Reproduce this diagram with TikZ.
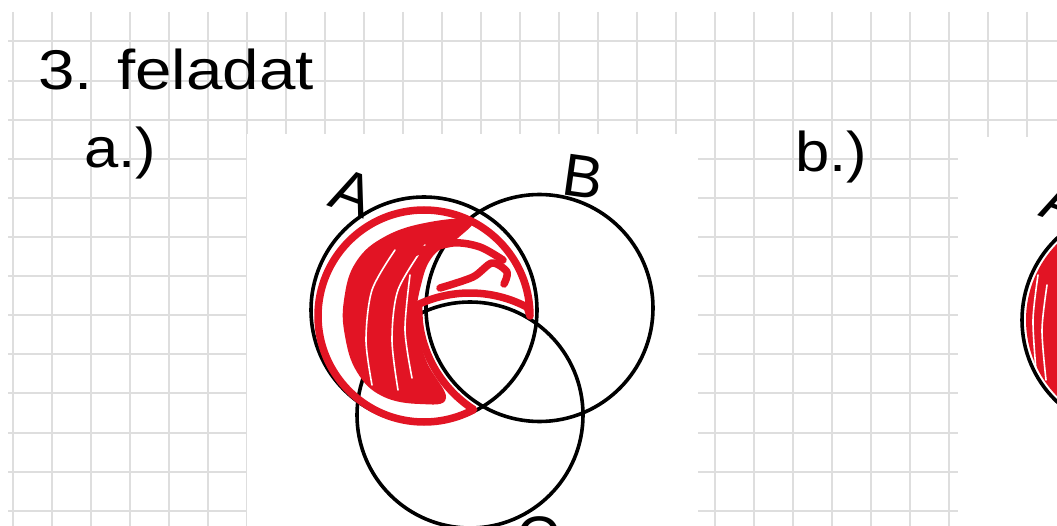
\documentclass[tikz,border=0pt]{standalone}
\usepackage{fontspec}
\setmainfont{Liberation Sans}
\usetikzlibrary{calc}
\definecolor{penred}{RGB}{226,20,36}
\definecolor{gridc}{RGB}{222,222,222}
\begin{document}
\begin{tikzpicture}[x=1pt,y=-1pt,
  gridline/.style={draw=gridc,line width=2pt},
  setcircle/.style={draw=black,line width=3.6pt},
  redline/.style={draw=penred,line width=7.5pt,line cap=round,line join=round},
  streak/.style={draw=white,line width=1.6pt,line cap=round},
  hand/.style={font=\fontsize{56}{60}\selectfont,inner sep=0pt},
  setlabel/.style={font=\fontsize{60}{60}\selectfont,inner sep=0pt}]
\useasboundingbox (0,0) rectangle (1057,526);
\clip (0,0) rectangle (1057,526);
\fill[white] (0,0) rectangle (1057,526);
% squared paper
\foreach \i in {0,...,26} \draw[gridline] ({12.7+39*\i},12) -- ({12.7+39*\i},526);
\foreach \j in {0,...,12} \draw[gridline] (8,{41.5+39.1*\j}) -- (1057,{41.5+39.1*\j});
% pasted white sheets
\fill[white] (247,134) rectangle (698,526);
\fill[white] (958,137) rectangle (1057,526);
% texts
\node[hand,anchor=base west,xscale=1.17] (title) at (38,90) {3. feladat};
\node[hand,anchor=base west,xscale=1.1] (parta) at (84,168) {a.)};
\node[hand,anchor=base west,xscale=1.1] (partb) at (795,172) {b.)};
% part a: Venn diagram
\coordinate (cA) at (424,310);
\coordinate (cB) at (539.5,308);
\coordinate (cC) at (470,415);
\coordinate (cAr) at (424,316);
\draw[setcircle] (cA) circle[radius=113];
\draw[setcircle] (cB) circle[radius=113.5];
\draw[setcircle] (cC) circle[radius=113];
\node[setlabel,rotate=-20] (la) at (352,193) {A};
\node[setlabel,rotate=-8] (lb) at (583,177) {B};
\node[setlabel] (lc) at (538,538) {C};
% red marking: A \ (B cap C)
\fill[penred] plot[smooth cycle,tension=0.7] coordinates {(344,300) (356,262) (386,236) (430,222) (472,220) (458,238) (433,256) (421,285) (417,320) (426,360) (446,398) (420,404) (382,396) (357,372) (345,336)};
\draw[streak] plot[smooth] coordinates {(372,385) (366,340) (372,290) (395,250)};
\draw[streak] plot[smooth] coordinates {(398,390) (392,340) (398,290) (425,245)};
\draw[streak] plot[smooth] coordinates {(412,378) (405,330) (410,275)};
\draw[redline] ($(cAr)+(0:106)$) arc[start angle=0,end angle=-298,radius=106]
  -- ($(cB)+(124:121)$) arc[start angle=124,end angle=174,radius=121]
  -- ($(cC)+(-115:122)$) arc[start angle=-115,end angle=-62,radius=122] -- cycle;
\draw[redline] plot[smooth] coordinates {(440,288) (473,277) (492,263) (507,272) (504,284)};
\draw[redline] plot[smooth] coordinates {(413,253) (453,243) (480,247) (503,260)};
% part b: partial circle
\coordinate (cA2) at (1135,320);
\fill[penred] (cA2) circle[radius=109];
\draw[streak] plot[smooth] coordinates {(1036,370) (1033,320) (1038,275)};
\draw[streak] plot[smooth] coordinates {(1046,380) (1042,330) (1047,285)};
\draw[setcircle] (cA2) circle[radius=113];
\node[setlabel,rotate=-20] (la2) at (1063,203) {A};
\end{tikzpicture}
\end{document}
